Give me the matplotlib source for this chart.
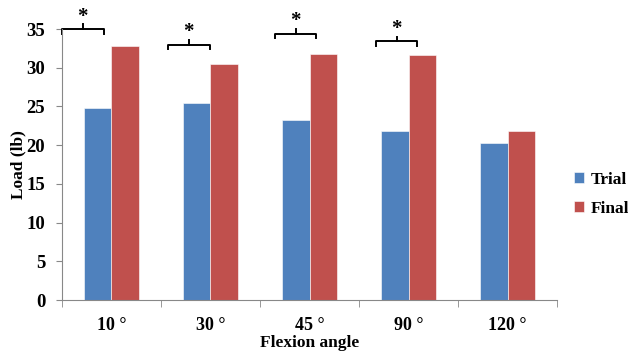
import matplotlib.pyplot as plt
import numpy as np

angles = ["10 °", "30 °", "45 °", "90 °", "120 °"]
trial = [24.8, 25.4, 23.3, 21.8, 20.3]
final = [32.8, 30.5, 31.8, 31.7, 21.8]

# significance brackets: category index, offset from group centre, height
sig_idx = [0, 1, 2, 3]
sig_off = [-0.29, -0.22, -0.14, -0.12]
sig_y = [35.0, 33.0, 34.4, 33.4]

plt.rcParams['font.family'] = ['Liberation Serif', 'DejaVu Serif']
plt.rcParams['font.weight'] = 'bold'

fig = plt.figure(figsize=(6.28, 3.54), dpi=100)
ax = fig.add_axes([0.0987, 0.1525, 0.7883, 0.7655])

x = np.arange(len(angles))
w = 0.28
ax.bar(x - w / 2, trial, w, color="#4F81BD", label="Trial", edgecolor="white", linewidth=0.4)
ax.bar(x + w / 2, final, w, color="#C0504D", label="Final", edgecolor="white", linewidth=0.4)

ax.set_xlim(-0.5, len(angles) - 0.5)
ax.set_ylim(0, 35)
ax.set_yticks(np.arange(0, 36, 5))
ax.set_xticks(x)
ax.set_xticklabels(angles, fontsize=13, fontweight='bold')
ax.set_xticks(np.arange(-0.5, len(angles), 1), minor=True)
ax.tick_params(axis='x', which='major', length=0, pad=12)
ax.tick_params(axis='x', which='minor', length=5, color="#888888")
ax.tick_params(axis='y', length=4, color="#888888", labelsize=13.5, pad=8)
for lab in ax.get_yticklabels():
    lab.set_fontweight('bold')

for s in ['top', 'right']:
    ax.spines[s].set_visible(False)
ax.spines['left'].set_color("#888888")
ax.spines['bottom'].set_color("#888888")

ax.set_xlabel("Flexion angle", fontsize=12.5, fontweight='bold', labelpad=1)
ax.set_ylabel("Load (lb)", fontsize=12.5, fontweight='bold', labelpad=0)

# brackets with stars
hw = 0.21
for i, off, yy in zip(sig_idx, sig_off, sig_y):
    cx = i + off
    ax.plot([cx - hw, cx - hw, cx + hw, cx + hw], [yy - 0.6, yy, yy, yy - 0.6],
            color="black", lw=1.4, clip_on=False)
    ax.plot([cx, cx], [yy, yy + 0.6], color="black", lw=1.4, clip_on=False)
    ax.text(cx, yy + 0.3, "*", ha="center", va="bottom", fontsize=15,
            fontweight='bold', clip_on=False)

leg = ax.legend(loc="center left", bbox_to_anchor=(1.01, 0.39), frameon=False,
                fontsize=12.5, handlelength=0.55, handleheight=0.55,
                handletextpad=0.4, labelspacing=0.75, borderaxespad=0.3)

fig.savefig("out.png", dpi=100)
